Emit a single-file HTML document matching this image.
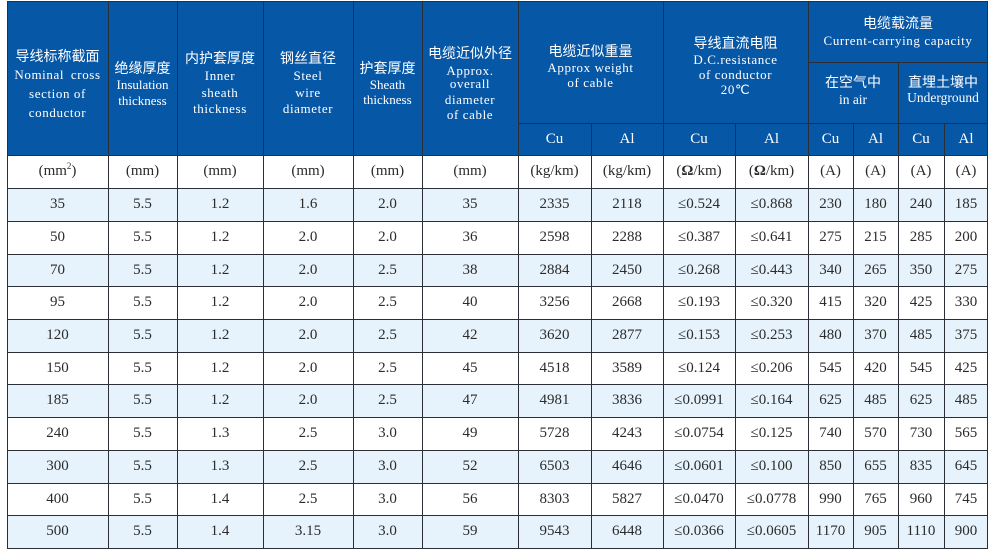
<!DOCTYPE html>
<html>
<head>
<meta charset="utf-8">
<style>
  html,body{margin:0;padding:0;background:#fff;}
  #wrap{position:relative;width:989px;height:552px;overflow:hidden;background:#fff;
    font-family:"Liberation Serif","Noto Serif CJK SC",serif;color:#2b2b2b;}
  .blue{position:absolute;left:7px;top:1px;width:981px;height:154px;background:#0757a7;}
  .row{position:absolute;left:7px;width:981px;display:flex;font-size:15px;}
  .row span{display:block;text-align:center;}
  .row span:nth-child(1){width:101px}
  .row span:nth-child(2){width:69px}
  .row span:nth-child(3){width:86px}
  .row span:nth-child(4){width:90px}
  .row span:nth-child(5){width:69px}
  .row span:nth-child(6){width:96px}
  .row span:nth-child(7){width:73px}
  .row span:nth-child(8){width:72px}
  .row span:nth-child(9){width:72px}
  .row span:nth-child(10){width:73px}
  .row span:nth-child(11){width:45px}
  .row span:nth-child(12){width:45px}
  .row span:nth-child(13){width:46px}
  .row span:nth-child(14){width:44px}
  .lb{background:#e7f3fc;}
  .wh{background:#fff;}
  .v{position:absolute;width:1px;background:#2a2f36;}
  .h{position:absolute;height:1px;background:#2a2f36;}
  .t{position:absolute;text-align:center;white-space:nowrap;height:20px;line-height:20px;color:#fff;}
  .zh{font-family:"Liberation Sans","Noto Sans CJK SC",sans-serif;font-size:14px;font-weight:normal;}
  .en{font-family:"Liberation Serif",serif;font-size:13px;letter-spacing:0.6px;}
  .en2{font-family:"Liberation Serif",serif;font-size:13.5px;}
  .cu{font-family:"Liberation Serif",serif;font-size:15px;}
</style>
</head>
<body>
<div id="wrap">
  <div class="blue"></div>

  <!-- header text col1 -->
  <div class="t zh" style="left:7px;width:101px;top:46px;">导线标称截面</div>
  <div class="t en" style="left:7px;width:101px;top:65px;word-spacing:3px;">Nominal cross</div>
  <div class="t en" style="left:7px;width:101px;top:84px;">section of</div>
  <div class="t en" style="left:7px;width:101px;top:103px;">conductor</div>
  <!-- col2 -->
  <div class="t zh" style="left:108px;width:69px;top:58px;">绝缘厚度</div>
  <div class="t en2" style="left:108px;width:69px;top:75px;font-size:13px;">Insulation</div>
  <div class="t en2" style="left:108px;width:69px;top:91px;font-size:13px;">thickness</div>
  <!-- col3 -->
  <div class="t zh" style="left:177px;width:86px;top:48px;">内护套厚度</div>
  <div class="t en" style="left:177px;width:86px;top:66px;">Inner</div>
  <div class="t en" style="left:177px;width:86px;top:83px;">sheath</div>
  <div class="t en" style="left:177px;width:86px;top:99px;">thickness</div>
  <!-- col4 -->
  <div class="t zh" style="left:263px;width:90px;top:48px;">钢丝直径</div>
  <div class="t en" style="left:263px;width:90px;top:66px;">Steel</div>
  <div class="t en" style="left:263px;width:90px;top:83px;">wire</div>
  <div class="t en" style="left:263px;width:90px;top:99px;">diameter</div>
  <!-- col5 -->
  <div class="t zh" style="left:353px;width:69px;top:58px;">护套厚度</div>
  <div class="t en2" style="left:353px;width:69px;top:75px;font-size:13px;">Sheath</div>
  <div class="t en2" style="left:353px;width:69px;top:90px;font-size:13px;">thickness</div>
  <!-- col6 -->
  <div class="t zh" style="left:422px;width:96px;top:43px;">电缆近似外径</div>
  <div class="t en" style="left:422px;width:96px;top:61px;">Approx.</div>
  <div class="t en" style="left:422px;width:96px;top:74px;">overall</div>
  <div class="t en" style="left:422px;width:96px;top:90px;">diameter</div>
  <div class="t en" style="left:422px;width:96px;top:105px;">of cable</div>
  <!-- col7-8 -->
  <div class="t zh" style="left:518px;width:145px;top:41px;">电缆近似重量</div>
  <div class="t en" style="left:518px;width:145px;top:58px;">Approx weight</div>
  <div class="t en" style="left:518px;width:145px;top:73px;">of cable</div>
  <!-- col9-10 -->
  <div class="t zh" style="left:663px;width:145px;top:33px;">导线直流电阻</div>
  <div class="t en" style="left:663px;width:145px;top:50px;">D.C.resistance</div>
  <div class="t en" style="left:663px;width:145px;top:65px;">of conductor</div>
  <div class="t en" style="left:663px;width:145px;top:80px;">20℃</div>
  <!-- current capacity -->
  <div class="t zh" style="left:808px;width:180px;top:13px;">电缆载流量</div>
  <div class="t en" style="left:808px;width:180px;top:31px;">Current-carrying capacity</div>
  <div class="t zh" style="left:808px;width:90px;top:72px;">在空气中</div>
  <div class="t en2" style="left:808px;width:90px;top:90px;">in air</div>
  <div class="t zh" style="left:898px;width:90px;top:72px;">直埋土壤中</div>
  <div class="t en2" style="left:898px;width:90px;top:88px;">Underground</div>

  <!-- Cu/Al sub header -->
  <div class="t cu" style="left:518px;width:73px;top:129px;">Cu</div>
  <div class="t cu" style="left:591px;width:72px;top:129px;">Al</div>
  <div class="t cu" style="left:663px;width:72px;top:129px;">Cu</div>
  <div class="t cu" style="left:735px;width:73px;top:129px;">Al</div>
  <div class="t cu" style="left:808px;width:45px;top:129px;">Cu</div>
  <div class="t cu" style="left:853px;width:45px;top:129px;">Al</div>
  <div class="t cu" style="left:898px;width:46px;top:129px;">Cu</div>
  <div class="t cu" style="left:944px;width:44px;top:129px;">Al</div>

  <!-- units row -->
  <div class="row wh" style="top:155px;height:33px;line-height:33px;">
    <span>(mm<sup style="font-size:9px;line-height:0;">2</sup>)</span><span>(mm)</span><span>(mm)</span><span>(mm)</span><span>(mm)</span><span>(mm)</span><span>(kg/km)</span><span>(kg/km)</span><span>(<b>Ω</b>/km)</span><span>(<b>Ω</b>/km)</span><span>(A)</span><span>(A)</span><span>(A)</span><span>(A)</span>
  </div>

  <!-- data rows -->
  <div class="row lb" style="top:188px;height:33px;line-height:33px;"><span>35</span><span>5.5</span><span>1.2</span><span>1.6</span><span>2.0</span><span>35</span><span>2335</span><span>2118</span><span>≤0.524</span><span>≤0.868</span><span>230</span><span>180</span><span>240</span><span>185</span></div>
  <div class="row wh" style="top:221px;height:33px;line-height:33px;"><span>50</span><span>5.5</span><span>1.2</span><span>2.0</span><span>2.0</span><span>36</span><span>2598</span><span>2288</span><span>≤0.387</span><span>≤0.641</span><span>275</span><span>215</span><span>285</span><span>200</span></div>
  <div class="row lb" style="top:254px;height:33px;line-height:33px;"><span>70</span><span>5.5</span><span>1.2</span><span>2.0</span><span>2.5</span><span>38</span><span>2884</span><span>2450</span><span>≤0.268</span><span>≤0.443</span><span>340</span><span>265</span><span>350</span><span>275</span></div>
  <div class="row wh" style="top:286px;height:33px;line-height:33px;"><span>95</span><span>5.5</span><span>1.2</span><span>2.0</span><span>2.5</span><span>40</span><span>3256</span><span>2668</span><span>≤0.193</span><span>≤0.320</span><span>415</span><span>320</span><span>425</span><span>330</span></div>
  <div class="row lb" style="top:319px;height:33px;line-height:33px;"><span>120</span><span>5.5</span><span>1.2</span><span>2.0</span><span>2.5</span><span>42</span><span>3620</span><span>2877</span><span>≤0.153</span><span>≤0.253</span><span>480</span><span>370</span><span>485</span><span>375</span></div>
  <div class="row wh" style="top:352px;height:33px;line-height:33px;"><span>150</span><span>5.5</span><span>1.2</span><span>2.0</span><span>2.5</span><span>45</span><span>4518</span><span>3589</span><span>≤0.124</span><span>≤0.206</span><span>545</span><span>420</span><span>545</span><span>425</span></div>
  <div class="row lb" style="top:384px;height:33px;line-height:33px;"><span>185</span><span>5.5</span><span>1.2</span><span>2.0</span><span>2.5</span><span>47</span><span>4981</span><span>3836</span><span>≤0.0991</span><span>≤0.164</span><span>625</span><span>485</span><span>625</span><span>485</span></div>
  <div class="row wh" style="top:417px;height:33px;line-height:33px;"><span>240</span><span>5.5</span><span>1.3</span><span>2.5</span><span>3.0</span><span>49</span><span>5728</span><span>4243</span><span>≤0.0754</span><span>≤0.125</span><span>740</span><span>570</span><span>730</span><span>565</span></div>
  <div class="row lb" style="top:450px;height:33px;line-height:33px;"><span>300</span><span>5.5</span><span>1.3</span><span>2.5</span><span>3.0</span><span>52</span><span>6503</span><span>4646</span><span>≤0.0601</span><span>≤0.100</span><span>850</span><span>655</span><span>835</span><span>645</span></div>
  <div class="row wh" style="top:483px;height:33px;line-height:33px;"><span>400</span><span>5.5</span><span>1.4</span><span>2.5</span><span>3.0</span><span>56</span><span>8303</span><span>5827</span><span>≤0.0470</span><span>≤0.0778</span><span>990</span><span>765</span><span>960</span><span>745</span></div>
  <div class="row lb" style="top:515px;height:33px;line-height:33px;"><span>500</span><span>5.5</span><span>1.4</span><span>3.15</span><span>3.0</span><span>59</span><span>9543</span><span>6448</span><span>≤0.0366</span><span>≤0.0605</span><span>1170</span><span>905</span><span>1110</span><span>900</span></div>

  <!-- vertical lines -->
  <div class="v" style="left:7px;top:1px;height:548px;"></div>
  <div class="v" style="left:108px;top:1px;height:548px;"></div>
  <div class="v" style="left:177px;top:1px;height:548px;"></div>
  <div class="v" style="left:263px;top:1px;height:548px;"></div>
  <div class="v" style="left:353px;top:1px;height:548px;"></div>
  <div class="v" style="left:422px;top:1px;height:548px;"></div>
  <div class="v" style="left:518px;top:1px;height:548px;"></div>
  <div class="v" style="left:591px;top:123px;height:426px;"></div>
  <div class="v" style="left:663px;top:1px;height:548px;"></div>
  <div class="v" style="left:735px;top:123px;height:426px;"></div>
  <div class="v" style="left:808px;top:1px;height:548px;"></div>
  <div class="v" style="left:853px;top:123px;height:426px;"></div>
  <div class="v" style="left:898px;top:62px;height:487px;"></div>
  <div class="v" style="left:944px;top:123px;height:426px;"></div>
  <div class="v" style="left:987px;top:1px;height:548px;"></div>

  <!-- horizontal lines -->
  <div class="h" style="left:7px;top:1px;width:981px;"></div>
  <div class="h" style="left:808px;top:62px;width:180px;"></div>
  <div class="h" style="left:518px;top:123px;width:470px;"></div>
  <div class="h" style="left:7px;top:155px;width:981px;"></div>
  <div class="h" style="left:7px;top:188px;width:981px;"></div>
  <div class="h" style="left:7px;top:221px;width:981px;"></div>
  <div class="h" style="left:7px;top:254px;width:981px;"></div>
  <div class="h" style="left:7px;top:286px;width:981px;"></div>
  <div class="h" style="left:7px;top:319px;width:981px;"></div>
  <div class="h" style="left:7px;top:352px;width:981px;"></div>
  <div class="h" style="left:7px;top:384px;width:981px;"></div>
  <div class="h" style="left:7px;top:417px;width:981px;"></div>
  <div class="h" style="left:7px;top:450px;width:981px;"></div>
  <div class="h" style="left:7px;top:483px;width:981px;"></div>
  <div class="h" style="left:7px;top:515px;width:981px;"></div>
  <div class="h" style="left:7px;top:548px;width:981px;"></div>
</div>
</body>
</html>
